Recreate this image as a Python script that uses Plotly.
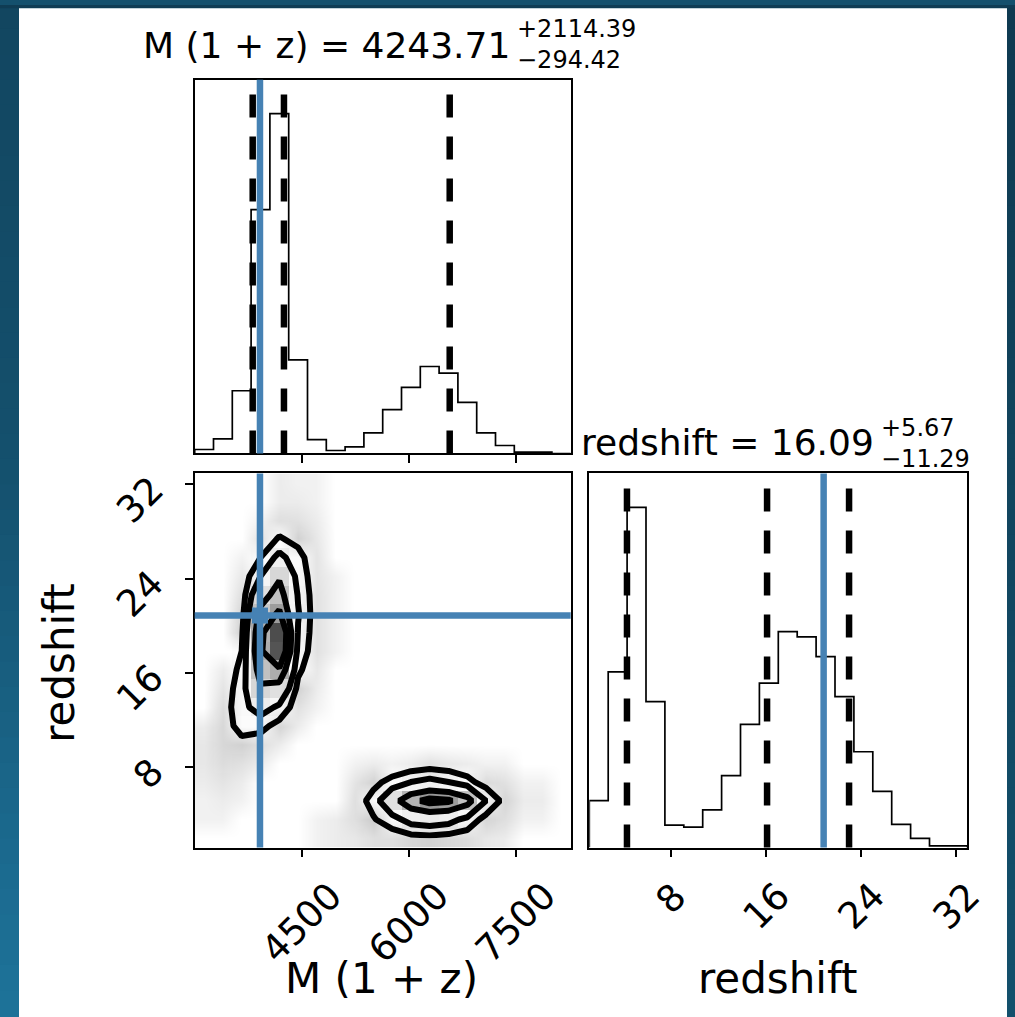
import numpy as np
import plotly.graph_objects as go

# ------------------------------------------------------------------ data
m_label = "M (1 + z)"
z_label = "redshift"
m_range = [2991.0, 8268.0]
z_range = [1.13, 32.94]
n_bins = 20

# 1-D marginal histograms (20 equal bins over the axis ranges)
m_hist_counts = [12, 44, 189, 735, 1024, 282, 42, 9, 20, 62,
                 132, 199, 262, 242, 154, 62, 24, 4, 4, 0]
z_hist_counts = [142, 532, 1030, 442, 68, 62, 114, 218, 373, 498,
                 654, 638, 578, 457, 290, 170, 70, 28, 5, 5]

# quantile (dashed) lines and truth (blue) values
m_quantiles = [3805.0, 4243.71, 6570.0]
z_quantiles = [4.30, 16.09, 22.99]
m_truth = 3907.0
z_truth = 20.85

m_ticks = [4500, 6000, 7500]
z_ticks = [8, 16, 24, 32]

m_title = ["M (1 + z) = 4243.71", "+2114.39", "\u2212294.42"]
z_title = ["redshift = 16.09", "+5.67", "\u221211.29"]

# 2-D histogram counts: rows = redshift bins (low -> high), cols = M(1+z) bins
hist2d_counts = [
    [0, 0, 0, 0, 0, 0, 1, 2, 3, 6, 6, 10, 12, 9, 7, 3, 2, 0, 0, 0],
    [1, 1, 0, 0, 0, 0, 1, 2, 6, 16, 30, 50, 55, 50, 32, 10, 6, 1, 1, 0],
    [1, 2, 1, 0, 0, 0, 0, 0, 6, 26, 70, 110, 130, 125, 100, 40, 10, 2, 2, 0],
    [2, 4, 2, 0, 0, 0, 0, 0, 4, 12, 25, 40, 48, 40, 25, 8, 5, 1, 1, 0],
    [3, 7, 5, 2, 0, 0, 0, 0, 1, 2, 1, 2, 5, 3, 2, 1, 1, 0, 0, 0],
    [3, 9, 12, 6, 2, 0, 0, 0, 0, 0, 0, 0, 0, 0, 0, 0, 0, 0, 0, 0],
    [2, 9, 25, 25, 10, 2, 0, 0, 0, 0, 0, 0, 0, 0, 0, 0, 0, 0, 0, 0],
    [0, 7, 32, 52, 35, 5, 1, 0, 0, 0, 0, 0, 0, 0, 0, 0, 0, 0, 0, 0],
    [0, 4, 30, 80, 70, 12, 2, 0, 0, 0, 0, 0, 0, 0, 0, 0, 0, 0, 0, 0],
    [0, 2, 24, 100, 115, 22, 3, 0, 0, 0, 0, 0, 0, 0, 0, 0, 0, 0, 0, 0],
    [0, 0, 18, 115, 165, 32, 5, 1, 0, 0, 0, 0, 0, 0, 0, 0, 0, 0, 0, 0],
    [0, 0, 14, 110, 168, 38, 5, 1, 0, 0, 0, 0, 0, 0, 0, 0, 0, 0, 0, 0],
    [0, 0, 10, 95, 125, 42, 5, 1, 0, 0, 0, 0, 0, 0, 0, 0, 0, 0, 0, 0],
    [0, 0, 6, 70, 100, 38, 5, 1, 0, 0, 0, 0, 0, 0, 0, 0, 0, 0, 0, 0],
    [0, 0, 3, 40, 80, 32, 4, 1, 0, 0, 0, 0, 0, 0, 0, 0, 0, 0, 0, 0],
    [0, 0, 1, 18, 48, 25, 4, 0, 0, 0, 0, 0, 0, 0, 0, 0, 0, 0, 0, 0],
    [0, 0, 0, 5, 20, 12, 3, 0, 0, 0, 0, 0, 0, 0, 0, 0, 0, 0, 0, 0],
    [0, 0, 0, 1, 6, 5, 2, 0, 0, 0, 0, 0, 0, 0, 0, 0, 0, 0, 0, 0],
    [0, 0, 0, 0, 2, 2, 1, 0, 0, 0, 0, 0, 0, 0, 0, 0, 0, 0, 0, 0],
    [0, 0, 0, 0, 2, 1, 1, 0, 0, 0, 0, 0, 0, 0, 0, 0, 0, 0, 0, 0],
]
contour_levels = [18, 40, 85, 120]

# ------------------------------------------------------------------ style
W, H = 1015, 1017
FONT = "DejaVu Sans"
BLUE = "#4682b4"
TICK_FS = 37
LABEL_FS = 42
TITLE_FS = 36
SUP_FS = 24

def px_x(p):
    return p / W

def px_y(p):
    return 1 - p / H

# panel domains (pixels -> paper)
LEFT_COL = [px_x(194.7), px_x(570.7)]
RIGHT_COL = [px_x(589.3), px_x(967.3)]
TOP_ROW = [px_y(450.7), px_y(75.0)]
BOT_ROW = [px_y(846.7), px_y(470.7)]

m_edges = np.linspace(m_range[0], m_range[1], n_bins + 1)
z_edges = np.linspace(z_range[0], z_range[1], n_bins + 1)
m_centers = 0.5 * (m_edges[:-1] + m_edges[1:])
z_centers = 0.5 * (z_edges[:-1] + z_edges[1:])
H2 = np.array(hist2d_counts, dtype=float)


def step_xy(edges, counts):
    x = [edges[0]] + list(edges) + [edges[-1]]
    y = [0] + list(counts) + [counts[-1], 0]
    return x, y


fig = go.Figure()

# ---- top-left: M(1+z) marginal
sx, sy = step_xy(m_edges, m_hist_counts)
fig.add_trace(go.Scatter(x=sx, y=sy, mode="lines", line=dict(color="black", width=1.7, shape="hv"),
                         xaxis="x", yaxis="y", hoverinfo="skip", showlegend=False))

# ---- bottom-right: redshift marginal
sx, sy = step_xy(z_edges, z_hist_counts)
fig.add_trace(go.Scatter(x=sx, y=sy, mode="lines", line=dict(color="black", width=1.7, shape="hv"),
                         xaxis="x3", yaxis="y3", hoverinfo="skip", showlegend=False))

# ---- bottom-left: 2-D density
# faint haze standing in for the individual samples, only outside the lowest contour
haze = np.sqrt(np.clip(H2, 0, 40) / 40.0)
haze[H2 >= contour_levels[0]] = 0.0
fig.add_trace(go.Heatmap(x=m_centers, y=z_centers, z=haze, zmin=0, zmax=1, zsmooth="best",
                         colorscale=[[0, "rgba(0,0,0,0)"], [1, "rgba(0,0,0,0.34)"]],
                         showscale=False, hoverinfo="skip", xaxis="x2", yaxis="y2"))
# density squares (pcolor of the 2-D histogram)
fig.add_trace(go.Heatmap(x=m_centers, y=z_centers, z=H2, zmin=0, zmax=1.2 * H2.max(),
                         colorscale=[[0, "rgba(255,255,255,0)"], [1, "rgba(0,0,0,1)"]],
                         showscale=False, hoverinfo="skip", xaxis="x2", yaxis="y2"))
for lv in contour_levels:
    fig.add_trace(go.Contour(x=m_centers, y=z_centers, z=H2, autocontour=False,
                             contours=dict(start=lv, end=lv, size=1, coloring="none"),
                             line=dict(color="black", width=6, smoothing=0),
                             showscale=False, hoverinfo="skip", xaxis="x2", yaxis="y2"))

# ---- lines
shapes = []
DASH = "23px,19px"
for q in m_quantiles:
    shapes.append(dict(type="line", xref="x", yref="y domain", x0=q, x1=q, y0=0, y1=1,
                       line=dict(color="black", width=6.5, dash=DASH)))
for q in z_quantiles:
    shapes.append(dict(type="line", xref="x3", yref="y3 domain", x0=q, x1=q, y0=0, y1=1,
                       line=dict(color="black", width=6.5, dash=DASH)))
shapes.append(dict(type="line", xref="x", yref="y domain", x0=m_truth, x1=m_truth, y0=0, y1=1,
                   line=dict(color=BLUE, width=6.5)))
shapes.append(dict(type="line", xref="x3", yref="y3 domain", x0=z_truth, x1=z_truth, y0=0, y1=1,
                   line=dict(color=BLUE, width=6.5)))
shapes.append(dict(type="line", xref="x2", yref="y2 domain", x0=m_truth, x1=m_truth, y0=0, y1=1,
                   line=dict(color=BLUE, width=6.5)))
shapes.append(dict(type="line", xref="x2 domain", yref="y2", x0=0, x1=1, y0=z_truth, y1=z_truth,
                   line=dict(color=BLUE, width=6.5)))
fig.add_trace(go.Scatter(x=[m_truth], y=[z_truth], mode="markers",
                         marker=dict(symbol="square", size=16, color=BLUE),
                         xaxis="x2", yaxis="y2", hoverinfo="skip", showlegend=False))

# ---- background frame (dark gradient border around the white page)
def hex2rgb(h):
    h = h.lstrip("#")
    return [int(h[i:i + 2], 16) for i in (0, 2, 4)]

def interp_color(stops, y):
    for (y0, c0), (y1, c1) in zip(stops[:-1], stops[1:]):
        if y0 <= y <= y1:
            t = (y - y0) / (y1 - y0)
            a, b = hex2rgb(c0), hex2rgb(c1)
            return "rgb(%d,%d,%d)" % tuple(round(a[k] + (b[k] - a[k]) * t) for k in range(3))
    return stops[-1][1]

left_stops = [(0, "#124660"), (460, "#14506d"), (860, "#1b6a8f"), (1017, "#1d7399")]
right_stops = [(0, "#0f3a51"), (1017, "#13506c")]
bg = []
NB = 40
for i in range(NB):
    y0, y1 = i * H / NB, (i + 1) * H / NB
    ym = 0.5 * (y0 + y1)
    bg.append(dict(type="rect", xref="paper", yref="paper", x0=0, x1=px_x(19),
                   y0=px_y(min(H, y1 + 1.5)), y1=px_y(max(0, y0 - 1.5)),
                   fillcolor=interp_color(left_stops, ym), line=dict(width=0), layer="below"))
    bg.append(dict(type="rect", xref="paper", yref="paper", x0=px_x(1007), x1=1,
                   y0=px_y(min(H, y1 + 1.5)), y1=px_y(max(0, y0 - 1.5)),
                   fillcolor=interp_color(right_stops, ym), line=dict(width=0), layer="below"))
bg.append(dict(type="rect", xref="paper", yref="paper", x0=0, x1=1, y0=px_y(3.2), y1=1,
               fillcolor="#0f3c54", line=dict(width=0), layer="below"))

# ---- axes
common = dict(showgrid=False, zeroline=False, showline=True, mirror=True, linecolor="black",
              linewidth=1.5, ticks="outside", ticklen=8, tickwidth=1.5, tickcolor="black",
              tickfont=dict(family=FONT, size=TICK_FS, color="black"), fixedrange=True)
noticks = dict(showgrid=False, zeroline=False, showline=True, mirror=True, linecolor="black",
               linewidth=1.5, ticks="", showticklabels=False, fixedrange=True)

layout = dict(
    width=W, height=H, margin=dict(l=0, r=0, t=0, b=0),
    paper_bgcolor="#14506d", plot_bgcolor="white", showlegend=False,
    font=dict(family=FONT, color="black"),
    xaxis=dict(common, domain=LEFT_COL, anchor="y", range=m_range, tickvals=m_ticks,
               showticklabels=False),
    yaxis=dict(noticks, domain=TOP_ROW, anchor="x", range=[0, 1.1 * max(m_hist_counts)]),
    xaxis2=dict(common, domain=LEFT_COL, anchor="y2", range=m_range, tickvals=m_ticks,
                showticklabels=False),
    yaxis2=dict(common, domain=BOT_ROW, anchor="x2", range=z_range, tickvals=z_ticks,
                tickangle=-45, ticklabelstandoff=25),
    xaxis3=dict(common, domain=RIGHT_COL, anchor="y3", range=z_range, tickvals=z_ticks,
                showticklabels=False),
    yaxis3=dict(noticks, domain=BOT_ROW, anchor="x3", range=[0, 1.1 * max(z_hist_counts)]),
)

# white page behind everything inside the dark frame
page = [dict(type="rect", xref="paper", yref="paper", x0=px_x(19), x1=px_x(1007),
             y0=0, y1=px_y(3.2), fillcolor="white", line=dict(width=0), layer="below")]
layout["shapes"] = bg + page + shapes

ann = []
def text(x, y, s, size, xanchor="center", yanchor="middle", angle=0, xref="paper", xval=None):
    ann.append(dict(x=px_x(x) if xval is None else xval, y=px_y(y), xref=xref, yref="paper",
                    text=s, showarrow=False, xanchor=xanchor, yanchor=yanchor, textangle=angle,
                    font=dict(family=FONT, size=size, color="black")))

# rotated x tick labels, centred under their ticks (matplotlib style)
for t in m_ticks:
    text(0, 871, str(t), TICK_FS, xanchor="center", yanchor="top", angle=-45, xref="x2", xval=t)
for t in z_ticks:
    text(0, 871, str(t), TICK_FS, xanchor="center", yanchor="top", angle=-45, xref="x3", xval=t)

# titles with stacked super/sub-scripts
text(512, 41, m_title[0], TITLE_FS, xanchor="right")
text(515, 24, m_title[1], SUP_FS, xanchor="left")
text(515, 55, m_title[2], SUP_FS, xanchor="left")
text(876, 440, z_title[0], TITLE_FS, xanchor="right")
text(879, 425, z_title[1], SUP_FS, xanchor="left")
text(879, 456, z_title[2], SUP_FS, xanchor="left")
# axis labels
text(381, 978, m_label, LABEL_FS)
text(778, 978, z_label, LABEL_FS)
text(60, 661, z_label, LABEL_FS, angle=-90)

layout["annotations"] = ann
fig.update_layout(layout)
fig.write_html("out.html")
